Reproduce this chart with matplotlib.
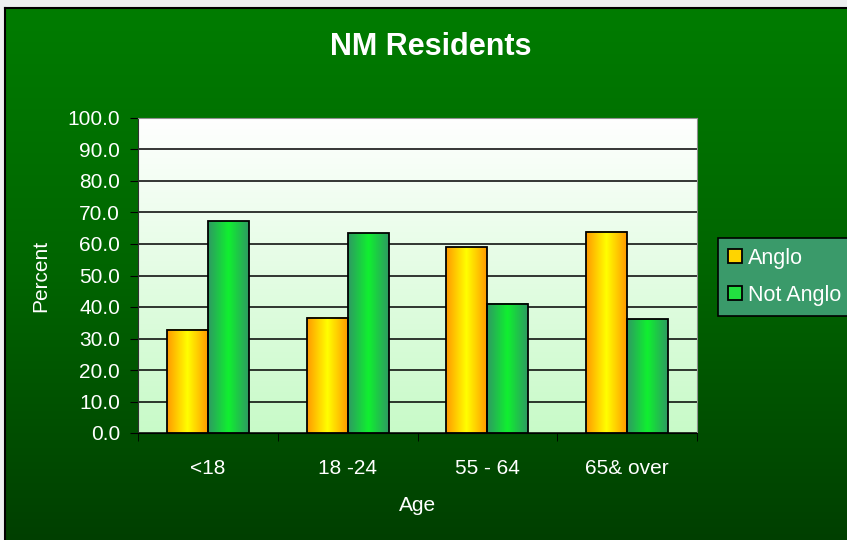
import numpy as np
import matplotlib
matplotlib.use("Agg")
import matplotlib.pyplot as plt
from matplotlib.colors import LinearSegmentedColormap
from matplotlib.patches import Patch

categories = ["<18", "18 -24", "55 - 64", "65& over"]
anglo = [32.7, 36.6, 59.0, 63.9]
not_anglo = [67.3, 63.4, 41.0, 36.1]
series_names = ["Anglo", "Not Anglo"]
yticks = [0, 10, 20, 30, 40, 50, 60, 70, 80, 90, 100]

plt.rcParams['font.family'] = ['Liberation Sans', 'DejaVu Sans']

W, H = 847, 540
fig = plt.figure(figsize=(W / 100, H / 100), dpi=100)
fig.patch.set_facecolor("#eceff0")

# background panel
bg = fig.add_axes([0, 0, 1, 1], zorder=-5)
bg.axis("off")
panel_cmap = LinearSegmentedColormap.from_list("panel", ["#007c00", "#006400", "#003f00"])
grad = np.linspace(0, 1, 256).reshape(-1, 1)
bg.imshow(grad, cmap=panel_cmap, extent=[5, W + 2, H + 2, 8], aspect="auto", zorder=0)
bg.plot([4.5, 4.5], [H + 2, 8], color="black", lw=1.5, zorder=2)
bg.plot([4.5, W + 2], [8, 8], color="black", lw=1.5, zorder=2)
bg.set_xlim(0, W)
bg.set_ylim(H, 0)

ax = fig.add_axes([138 / W, 1 - 433 / H, 559 / W, 315 / H], zorder=0)
ax.set_facecolor("none")
plot_cmap = LinearSegmentedColormap.from_list("plotbg", ["#c8fac8", "#ffffff"])
ax.imshow(np.linspace(0, 1, 256).reshape(-1, 1), cmap=plot_cmap, origin="lower",
          extent=[0, 1, 0, 1], transform=ax.transAxes, aspect="auto", zorder=0)

x = np.arange(len(categories))
bw = 0.293
b1 = ax.bar(x - bw / 2, anglo, bw, facecolor="none", edgecolor="black", lw=1.3, zorder=4)
b2 = ax.bar(x + bw / 2, not_anglo, bw, facecolor="none", edgecolor="black", lw=1.3, zorder=4)

cm_a = LinearSegmentedColormap.from_list("a", ["#ff9a00", "#ffff00", "#ff9a00"])
cm_n = LinearSegmentedColormap.from_list("n", ["#2e9a62", "#10f030", "#2e9a62"])
hgrad = np.linspace(0, 1, 128).reshape(1, -1)
for bars, cm in ((b1, cm_a), (b2, cm_n)):
    for r in bars:
        x0, y0 = r.get_x(), r.get_y()
        ax.imshow(hgrad, cmap=cm, extent=[x0, x0 + r.get_width(), y0, y0 + r.get_height()],
                  aspect="auto", zorder=3)

ax.set_xlim(-0.5, len(categories) - 0.5)
ax.set_ylim(0, 100)
ax.set_yticks(yticks)
ax.set_yticklabels([f"{v:.1f}" for v in yticks])
ax.yaxis.grid(True, color="black", lw=1.1)
for gl in ax.get_ygridlines():
    gl.set_zorder(2)

ax.set_xticks(x)
ax.set_xticklabels(categories)
ax.set_xticks(np.arange(len(categories) + 1) - 0.5, minor=True)
ax.tick_params(axis="x", which="major", length=0, pad=19, labelsize=15, colors="white")
ax.tick_params(axis="x", which="minor", length=6, direction="out", color="black")
ax.tick_params(axis="y", length=6, direction="out", color="black", labelsize=15,
               labelcolor="white", pad=7)

for s in ("top", "right"):
    ax.spines[s].set_color("#909090")
ax.spines["left"].set_color("#303030")
ax.spines["bottom"].set_color("black")
for s in ax.spines.values():
    s.set_zorder(5)

ax.set_xlabel("Age", color="white", fontsize=15, labelpad=13)
ax.set_ylabel("Percent", color="white", fontsize=15, labelpad=12)
fig.text(431 / W, 1 - 55 / H, "NM Residents", color="white", fontsize=22,
         fontweight="bold", ha="center", va="baseline")

handles = [Patch(facecolor="#ffd400", edgecolor="black", lw=1.3),
           Patch(facecolor="#22e040", edgecolor="black", lw=1.3)]
leg = fig.legend(handles, series_names, loc="upper left",
                 bbox_to_anchor=(718 / W, 1 - 238 / H), borderaxespad=0,
                 frameon=True, fancybox=False, framealpha=1,
                 facecolor="#3a9a6a", edgecolor="black", fontsize=15.5,
                 labelcolor="white", handlelength=0.65, handleheight=0.65,
                 handletextpad=0.3, borderpad=0.45, labelspacing=0.75)
leg.get_frame().set_linewidth(1.2)

fig.savefig("out.png", dpi=100, facecolor=fig.get_facecolor())
